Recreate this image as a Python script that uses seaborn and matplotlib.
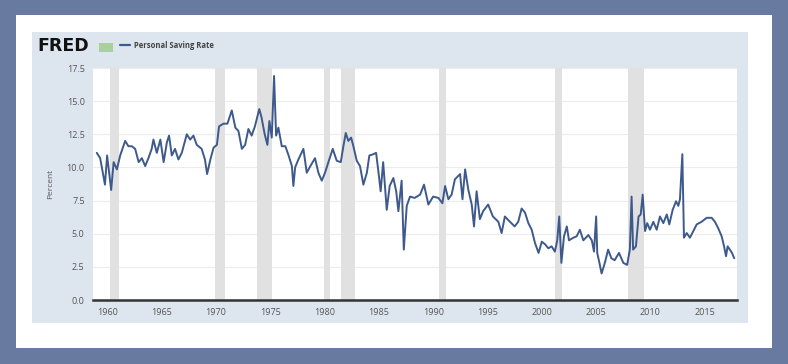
import matplotlib
matplotlib.use("Agg")
import matplotlib.pyplot as plt
import matplotlib.patches as mpatches
import seaborn as sns
import pandas as pd

# Personal saving rate (decimal year, percent)
years = [
    1959.05, 1959.36, 1959.8, 1960.0, 1960.37, 1960.6, 1960.9, 1961.2, 1961.66, 1961.96,
    1962.27, 1962.58, 1962.9, 1963.2, 1963.5, 1963.8, 1964.1, 1964.26, 1964.57, 1964.9,
    1965.2, 1965.5, 1965.7, 1965.95, 1966.25, 1966.56, 1966.87, 1967.33, 1967.64, 1967.94,
    1968.25, 1968.7, 1969.0, 1969.2, 1969.5, 1969.8, 1970.1, 1970.3, 1970.7, 1971.07,
    1971.47, 1971.8, 1972.08, 1972.4, 1972.7, 1973.0, 1973.3, 1973.6, 1974.0, 1974.2,
    1974.5, 1974.75, 1974.93, 1975.15, 1975.36, 1975.55, 1975.76, 1976.07, 1976.4, 1976.7,
    1977.0, 1977.14, 1977.3, 1977.6, 1978.06, 1978.37, 1978.7, 1979.13, 1979.44, 1979.75,
    1980.05, 1980.36, 1980.76, 1981.13, 1981.5, 1981.74, 1981.96, 1982.2, 1982.45, 1982.66,
    1982.97, 1983.27, 1983.58, 1983.9, 1984.13, 1984.5, 1984.75, 1984.96, 1985.17, 1985.4,
    1985.73, 1986.0, 1986.34, 1986.6, 1986.8, 1987.1, 1987.3, 1987.57, 1987.87, 1988.3,
    1988.8, 1989.16, 1989.56, 1990.0, 1990.48, 1990.85, 1991.1, 1991.4, 1991.7, 1992.0,
    1992.48, 1992.7, 1992.94, 1993.24, 1993.55, 1993.76, 1994.0, 1994.3, 1994.6, 1995.06,
    1995.5, 1996.0, 1996.3, 1996.6, 1997.07, 1997.5, 1997.83, 1998.14, 1998.45, 1998.76,
    1999.07, 1999.37, 1999.7, 2000.0, 2000.3, 2000.6, 2000.9, 2001.2, 2001.42, 2001.6,
    2001.8, 2002.04, 2002.3, 2002.5, 2002.9, 2003.2, 2003.5, 2003.82, 2004.28, 2004.6,
    2004.8, 2005.0, 2005.1, 2005.3, 2005.5, 2005.8, 2006.1, 2006.4, 2006.7, 2007.1,
    2007.5, 2007.85, 2008.1, 2008.26, 2008.4, 2008.66, 2008.9, 2009.1, 2009.28, 2009.5,
    2009.7, 2009.95, 2010.26, 2010.57, 2010.87, 2011.18, 2011.5, 2011.73, 2012.04, 2012.35,
    2012.56, 2012.71, 2012.93, 2013.08, 2013.33, 2013.63, 2013.94, 2014.25, 2014.7, 2015.17,
    2015.63, 2015.93, 2016.24, 2016.55, 2016.77, 2016.95, 2017.1, 2017.3, 2017.5, 2017.7,
]
saving_rate = [
    11.1, 10.7, 8.7, 10.9, 8.3, 10.4, 9.85, 10.9, 12.0, 11.6,
    11.6, 11.4, 10.4, 10.7, 10.1, 10.7, 11.4, 12.1, 11.1, 12.1,
    10.4, 11.9, 12.4, 10.9, 11.4, 10.6, 11.1, 12.5, 12.1, 12.4,
    11.7, 11.4, 10.6, 9.5, 10.6, 11.5, 11.7, 13.1, 13.3, 13.3,
    14.3, 13.0, 12.75, 11.4, 11.7, 12.9, 12.4, 13.1, 14.4, 13.8,
    12.5, 11.7, 13.5, 12.25, 16.9, 12.4, 13.0, 11.6, 11.6, 10.9,
    10.1, 8.6, 10.0, 10.6, 11.4, 9.6, 10.1, 10.7, 9.6, 9.0,
    9.6, 10.4, 11.4, 10.5, 10.4, 11.6, 12.6, 12.0, 12.25, 11.6,
    10.5, 10.1, 8.7, 9.6, 10.9, 11.0, 11.1, 9.7, 8.2, 10.4,
    6.8, 8.6, 9.2, 8.2, 6.7, 9.0, 3.8, 7.1, 7.8, 7.7,
    7.95, 8.7, 7.2, 7.8, 7.7, 7.3, 8.6, 7.6, 7.95, 9.1,
    9.5, 7.6, 9.85, 8.3, 7.2, 5.55, 8.2, 6.1, 6.7, 7.2,
    6.3, 5.9, 5.05, 6.3, 5.9, 5.55, 5.9, 6.9, 6.6, 5.8,
    5.3, 4.3, 3.55, 4.4, 4.2, 3.9, 4.05, 3.65, 4.5, 6.3,
    2.8, 4.8, 5.55, 4.5, 4.7, 4.8, 5.3, 4.5, 4.9, 4.5,
    3.65, 6.3, 3.55, 2.8, 2.0, 2.8, 3.8, 3.15, 3.0, 3.55,
    2.8, 2.65, 3.8, 7.8, 3.8, 4.05, 6.3, 6.45, 7.95, 5.2,
    5.8, 5.3, 5.9, 5.3, 6.3, 5.8, 6.45, 5.7, 6.8, 7.45,
    7.1, 7.6, 11.0, 4.7, 5.05, 4.7, 5.2, 5.7, 5.9, 6.2,
    6.2, 5.9, 5.4, 4.8, 4.05, 3.3, 4.05, 3.8, 3.55, 3.15,
]

# NBER recessions (start, end)
rec_start = [1960.25, 1969.92, 1973.83, 1980.0, 1981.5, 1990.5, 2001.17, 2007.92]
rec_end = [1961.08, 1970.83, 1975.17, 1980.5, 1982.83, 1991.17, 2001.83, 2009.42]

y_ticks = [0.0, 2.5, 5.0, 7.5, 10.0, 12.5, 15.0, 17.5]
x_ticks = [1960, 1965, 1970, 1975, 1980, 1985, 1990, 1995, 2000, 2005, 2010, 2015]

df = pd.DataFrame({"year": years, "rate": saving_rate})

sns.set_theme(style="white")
plt.rcParams["font.family"] = ["Open Sans", "DejaVu Sans"]

fig = plt.figure(figsize=(7.88, 3.64), dpi=100)
fig.patch.set_facecolor("#687a9f")

# white card and light blue chart panel (behind the axes)
fig.patches.append(mpatches.Rectangle((16 / 788, 16 / 364), 756 / 788, 333 / 364,
                                      transform=fig.transFigure, facecolor="white",
                                      edgecolor="none", zorder=-3))
fig.patches.append(mpatches.Rectangle((32 / 788, 41 / 364), 716 / 788, 291 / 364,
                                      transform=fig.transFigure, facecolor="#dde6ee",
                                      edgecolor="none", zorder=-2))

ax = fig.add_axes([93 / 788, 64 / 364, 644 / 788, 232 / 364])
ax.set_zorder(2)
ax.set_facecolor("white")

for s, e in zip(rec_start, rec_end):
    ax.axvspan(s, e, color="#e1e1e1", lw=0, zorder=1)

sns.lineplot(data=df, x="year", y="rate", ax=ax, color="#3e5a8c", linewidth=1.4, zorder=3)

ax.set_xlim(1958.7, 2017.96)
ax.set_ylim(0, 17.5)
ax.set_yticks(y_ticks)
ax.set_yticklabels([f"{v:.1f}" for v in y_ticks])
ax.set_xticks(x_ticks)
ax.yaxis.grid(True, color="#ececec", linewidth=0.8, zorder=0)
ax.set_axisbelow(True)
for side in ["top", "right", "left"]:
    ax.spines[side].set_visible(False)
ax.spines["bottom"].set_color("#333333")
ax.spines["bottom"].set_linewidth(1.8)
ax.spines["bottom"].set_zorder(4)
ax.tick_params(axis="both", labelsize=6.5, colors="#555555", length=0, pad=6)
ax.tick_params(axis="y", length=3, width=0.6, color="#aaaaaa", pad=3)
ax.set_xlabel("")
ax.set_ylabel("Percent", fontsize=6, color="#555555", labelpad=9)

# header: FRED logo and legend
fig.text(37 / 788, 1 - 46 / 364, "FRED", fontsize=12.5, fontweight="bold",
         family="DejaVu Sans", color="#111111", va="center", ha="left")
fig.patches.append(mpatches.Rectangle((99 / 788, 1 - 52 / 364), 14 / 788, 9 / 364,
                                      transform=fig.transFigure, facecolor="#a9cf9a",
                                      edgecolor="none"))
fig.lines.append(plt.Line2D([120 / 788, 130 / 788], [1 - 45 / 364, 1 - 45 / 364],
                            transform=fig.transFigure, color="#3e5a8c", linewidth=1.6))
fig.text(134 / 788, 1 - 45 / 364, "Personal Saving Rate", fontsize=5.5,
         fontweight="bold", color="#444444", va="center", ha="left")

fig.savefig("out.png", dpi=100, facecolor=fig.get_facecolor())
